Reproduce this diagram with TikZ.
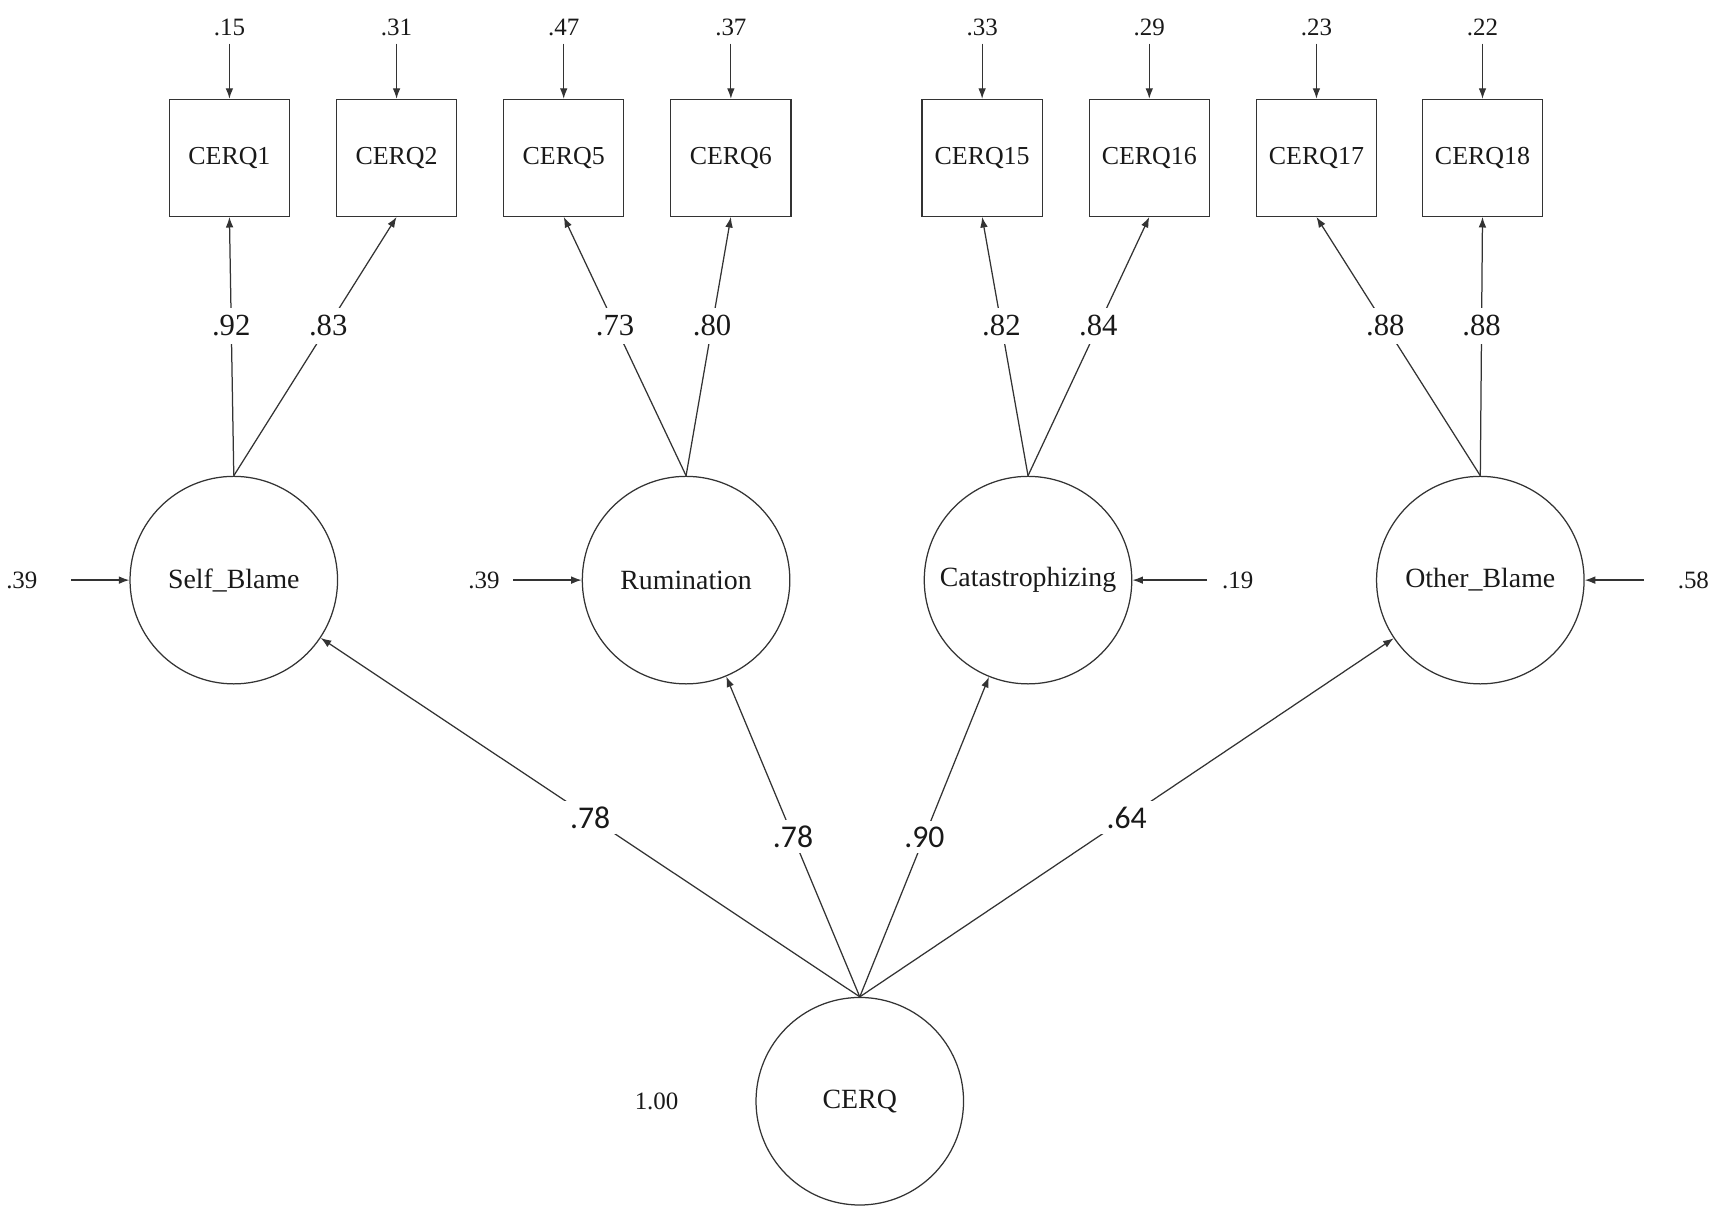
\documentclass[tikz,border=0pt]{standalone}
\usepackage{fontspec}
\setmainfont{Liberation Serif}
\newfontfamily\sansload{Carlito}
\usepackage{tikz}
\usetikzlibrary{arrows.meta}

\begin{document}
\begin{tikzpicture}[x=0.02cm, y=-0.02cm, line width=0.65pt, draw=black!80, text=black!90,
	obs/.style={draw, rectangle, minimum width=2.2cm, minimum height=2.14cm, inner sep=0pt, font=\fontsize{13.5}{16}\selectfont},
	lat/.style={draw, circle, minimum size=3.8cm, inner sep=0pt, font=\fontsize{14.5}{17}\selectfont},
	var/.style={inner sep=0pt, font=\fontsize{13}{15}\selectfont},
	ld/.style={fill=white, inner sep=4pt, font=\fontsize{16}{19}\selectfont},
	sld/.style={fill=white, inner sep=3pt, font=\fontsize{16.5}{19}\sansload},
	arr/.style={-{Latex[length=5.5pt,width=4pt]}}]
	\useasboundingbox (0,0) rectangle (1568,1110);
	\foreach \x/\n/\e in {210/1/.15, 363/2/.31, 516/5/.47, 669/6/.37, 899/15/.33, 1052/16/.29, 1205/17/.23, 1357/18/.22}
	{
		\node[obs] (q\n) at (\x,144.5) {CERQ\n};
		\node[var] (e\n) at (\x,25) {\e};
		\coordinate (t\n) at (\x,40);
		\draw[arr] (t\n) -- (q\n.north);
	}
	\node[lat] (sb) at (214,531) {Self\_Blame};
	\node[lat] (ru) at (628,531) {Rumination};
	\node[lat] (ca) at (941,531) {Catastrophizing};
	\node[lat] (ob) at (1355,531) {Other\_Blame};
	\node[lat] (cq) at (787,1008) {CERQ};
	\node[var] (vcq) at (601,1008) {1.00};
	\draw[arr] (sb.north) -- node[ld, pos=0.58] {.92} (q1.south);
	\draw[arr] (sb.north) -- node[ld, pos=0.58] {.83} (q2.south);
	\draw[arr] (ru.north) -- node[ld, pos=0.58] {.73} (q5.south);
	\draw[arr] (ru.north) -- node[ld, pos=0.58] {.80} (q6.south);
	\draw[arr] (ca.north) -- node[ld, pos=0.58] {.82} (q15.south);
	\draw[arr] (ca.north) -- node[ld, pos=0.58] {.84} (q16.south);
	\draw[arr] (ob.north) -- node[ld, pos=0.58] {.88} (q17.south);
	\draw[arr] (ob.north) -- node[ld, pos=0.58] {.88} (q18.south);
	\draw[arr] (cq.north) -- node[sld] {.78} (sb);
	\draw[arr] (cq.north) -- node[sld] {.78} (ru);
	\draw[arr] (cq.north) -- node[sld] {.90} (ca);
	\draw[arr] (cq.north) -- node[sld] {.64} (ob);
	\node[var] (vsb) at (20,531) {.39};
	\node[var] (vru) at (443,531) {.39};
	\node[var] (vca) at (1133,531) {.19};
	\node[var] (vob) at (1550,531) {.58};
	\coordinate (dsb) at (65,531);
	\coordinate (dru) at (470,531);
	\coordinate (dca) at (1105,531);
	\coordinate (dob) at (1505,531);
	\draw[arr] (dsb) -- (sb);
	\draw[arr] (dru) -- (ru);
	\draw[arr] (dca) -- (ca);
	\draw[arr] (dob) -- (ob);
\end{tikzpicture}
\end{document}
